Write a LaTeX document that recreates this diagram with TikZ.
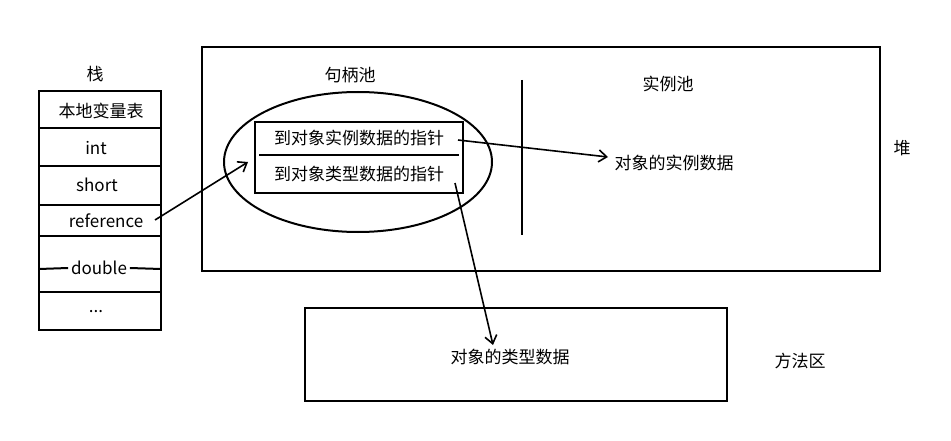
\documentclass[tikz,border=0pt]{standalone}
\usepackage{fontspec}
\setmainfont{Noto Sans CJK SC}
\usetikzlibrary{arrows.meta}
\begin{document}
\begin{tikzpicture}[x=1pt,y=-1pt,line width=2pt,
  lbl/.style={inner sep=0pt,font=\fontsize{17}{17}\selectfont},
  arr/.style={-{Straight Barb[length=8pt,width=12pt,line width=1.6pt]},line width=1.6pt}]
\useasboundingbox[fill=white] (0,0) rectangle (951,441);
% stack
\node[lbl] (stk) at (95,74) {栈};
\draw (39,91) rectangle (161,330);
\foreach \y in {128,166,205,236,292} \draw (39,\y) -- (161,\y);
\node[lbl] (r1) at (101,111) {本地变量表};
\node[lbl] (r2) at (96,148) {int};
\node[lbl] (r3) at (97,185) {short};
\node[lbl] (ref) at (106,221) {reference};
\node[lbl,fill=white,inner xsep=2pt] (dbl) at (99,268) {double};
\draw (39,269) -- (dbl.west) (dbl.east) -- (161,269);
\node[lbl] (dots) at (96,312) {...};
% heap
\draw (202,47) rectangle (880,271);
\node[lbl] (heap) at (902,148) {堆};
\node[lbl] (hp) at (350,75) {句柄池};
\node[lbl] (ip) at (668,84) {实例池};
\draw (522,80) -- (522,235);
\draw (358,162) ellipse [x radius=134, y radius=70];
\draw (255,122) rectangle (463,193);
\draw (259,155) -- (459,155);
\node[lbl] (p1) at (359,138) {到对象实例数据的指针};
\node[lbl] (p2) at (359,174) {到对象类型数据的指针};
\node[lbl] (inst) at (674,163) {对象的实例数据};
% method area
\draw (305,308) rectangle (727,401);
\node[lbl] (type) at (510,357) {对象的类型数据};
\node[lbl] (ma) at (800,361) {方法区};
% arrows
\coordinate (a1) at (155,220);
\coordinate (a1e) at (248,162);
\draw[arr] (a1) -- (a1e);
\coordinate (b1) at (458,140);
\draw[arr] (b1) -- (608,157);
\coordinate (c1) at (455,183);
\draw[arr] (c1) -- (493,345);
\end{tikzpicture}
\end{document}
